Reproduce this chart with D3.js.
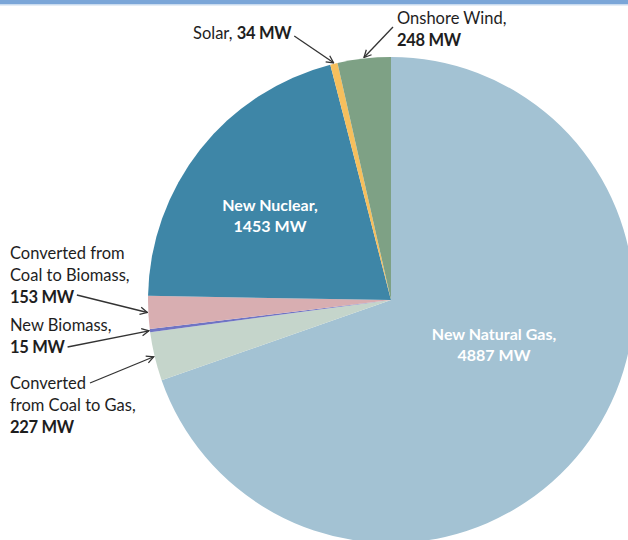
<!DOCTYPE html>
<html>
<head>
<meta charset="utf-8">
<script src="https://cdn.jsdelivr.net/npm/d3@7"></script>
<style>
  html, body { margin: 0; padding: 0; background: #fff; }
  svg { display: block; }
  text { font-family: Lato, "Open Sans", sans-serif; }
</style>
</head>
<body>
<svg id="chart" width="628" height="540"></svg>
<script>
// New generating capacity by source (MW), clockwise from 12 o'clock
const categories = [
  "New Natural Gas",
  "Converted from Coal to Gas",
  "New Biomass",
  "Converted from Coal to Biomass",
  "New Nuclear",
  "Solar",
  "Onshore Wind"
];
const capacityMW = [4887, 227, 15, 153, 1453, 34, 248];
const sliceColors = ["#a3c2d3", "#c5d5cb", "#6f74c4", "#d8aeb1", "#3e86a7", "#f6bf5d", "#7ea185"];

// Label text lines: plain part and bold part per line
const labelLines = [
  [["New Natural Gas,", ""], ["", "4887 MW"]],
  [["Converted", ""], ["from Coal to Gas,", ""], ["", "227 MW"]],
  [["New Biomass,", ""], ["", "15 MW"]],
  [["Converted from", ""], ["Coal to Biomass,", ""], ["", "153 MW"]],
  [["New Nuclear,", ""], ["", "1453 MW"]],
  [["Solar, ", "34 MW"]],
  [["Onshore Wind,", ""], ["", "248 MW"]]
];

const svg = d3.select("#chart");
const W = 628, H = 540;
const cx = 391, cy = 300, R = 243;

// top rule
svg.append("rect").attr("x", 0).attr("y", 0).attr("width", W).attr("height", 4).attr("fill", "#7ba6d8");
svg.append("rect").attr("x", 0).attr("y", 4).attr("width", W).attr("height", 1.5).attr("fill", "#c9dbef");

const data = categories.map((c, i) => ({ name: c, value: capacityMW[i], color: sliceColors[i], lines: labelLines[i] }));

const pie = d3.pie().value(d => d.value).sort(null).startAngle(0).endAngle(2 * Math.PI);
const arcs = pie(data);
const arc = d3.arc().innerRadius(0).outerRadius(R);

const g = svg.append("g").attr("transform", `translate(${cx},${cy})`);
g.selectAll("path.slice")
  .data(arcs)
  .enter().append("path")
  .attr("class", "slice")
  .attr("d", arc)
  .attr("fill", d => d.data.color);

// arrow marker
const defs = svg.append("defs");
defs.append("marker")
  .attr("id", "arrow")
  .attr("viewBox", "0 0 10 10")
  .attr("refX", 9).attr("refY", 5)
  .attr("markerWidth", 9).attr("markerHeight", 9)
  .attr("markerUnits", "userSpaceOnUse")
  .attr("orient", "auto")
  .append("path")
  .attr("d", "M1,1 L9,5 L1,9")
  .attr("fill", "none")
  .attr("stroke", "#333")
  .attr("stroke-width", 1.4);

// point on the rim at the middle of a slice
function rimPoint(a, r) {
  const m = (a.startAngle + a.endAngle) / 2;
  return [cx + r * Math.sin(m), cy - r * Math.cos(m)];
}

// label layout: anchor position, alignment, text colour, and where the leader starts
// (leaderLine: index of the text line the leader leaves from, or -1 when it leaves from a point)
const layout = {
  "New Natural Gas": { x: 494, y: 340, anchor: "middle", fill: "#fff", bold: true },
  "New Nuclear": { x: 270, y: 211, anchor: "middle", fill: "#fff", bold: true },
  "Converted from Coal to Gas": { x: 10, y: 389, anchor: "start", fill: "#1e1e1e", leader: [90, 383], leaderLine: 0 },
  "New Biomass": { x: 10, y: 331, anchor: "start", fill: "#1e1e1e", leader: [63, 347], leaderLine: 1 },
  "Converted from Coal to Biomass": { x: 10, y: 259, anchor: "start", fill: "#1e1e1e", leader: [70, 295], leaderLine: 2 },
  "Solar": { x: 193, y: 39, anchor: "start", fill: "#1e1e1e", leader: [290, 36], leaderLine: 0 },
  "Onshore Wind": { x: 397, y: 24, anchor: "start", fill: "#1e1e1e", leader: [393, 27], leaderLine: -1 }
};
const lineH = 22;
const labelLayer = svg.append("g");
const leaderLayer = svg.append("g");

arcs.forEach(a => {
  const L = layout[a.data.name];
  const t = labelLayer.append("text")
    .attr("text-anchor", L.anchor)
    .attr("fill", L.fill)
    .attr("font-size", L.bold ? 16 : 16.5);
  // bold values outside the pie are set a touch tighter
  const valueSpan = sel => sel.attr("font-weight", 700)
    .attr("letter-spacing", L.bold ? null : -0.3);
  const lineEnds = [];
  a.data.lines.forEach((ln, i) => {
    const y = L.y + i * (L.bold ? 21 : lineH);
    let last;
    if (ln[0]) {
      last = t.append("tspan").attr("x", L.x).attr("y", y)
        .attr("font-weight", L.bold ? 700 : 400).text(ln[0]);
      if (ln[1]) last = t.append("tspan").call(valueSpan).text(ln[1]);
    } else {
      last = t.append("tspan").attr("x", L.x).attr("y", y).call(valueSpan).text(ln[1]);
    }
    const n = last.node();
    const start = n.getStartPositionOfChar(0).x;
    lineEnds.push(start + n.getComputedTextLength());
  });
  if (L.leader) {
    let x0 = L.leader[0];
    if (L.leaderLine >= 0) x0 = Math.max(x0, lineEnds[L.leaderLine] + 3);
    const tip = rimPoint(a, R + 1);
    leaderLayer.append("line")
      .attr("x1", x0).attr("y1", L.leader[1])
      .attr("x2", tip[0]).attr("y2", tip[1])
      .attr("stroke", "#333").attr("stroke-width", 1.3)
      .attr("marker-end", "url(#arrow)");
  }
});
</script>
</body>
</html>
